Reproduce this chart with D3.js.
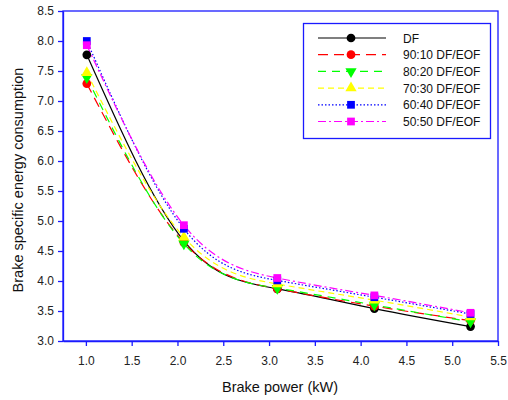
<!DOCTYPE html>
<html><head><meta charset="utf-8">
<script src="https://cdn.jsdelivr.net/npm/d3@7"></script>
<style>body{margin:0;background:#fff}svg{display:block}text{font-family:"Liberation Sans",Arial,sans-serif}</style>
</head><body><svg id="c" width="508" height="400"></svg>
<script>
const power = [1.01, 2.07, 3.09, 4.15, 5.2];
const seriesNames = ["DF","90:10 DF/EOF","80:20 DF/EOF","70:30 DF/EOF","60:40 DF/EOF","50:50 DF/EOF"];
const dfVals   = [7.77, 4.67, 3.87, 3.54, 3.24];
const b9010    = [7.29, 4.64, 3.87, 3.58, 3.34];
const b8020    = [7.39, 4.62, 3.88, 3.60, 3.32];
const b7030    = [7.47, 4.73, 3.95, 3.68, 3.40];
const b6040    = [8.00, 4.87, 4.01, 3.73, 3.45];
const b5050    = [7.93, 4.93, 4.05, 3.76, 3.47];
const xTicks = [1.0,1.5,2.0,2.5,3.0,3.5,4.0,4.5,5.0,5.5];
const yTicks = [3.0,3.5,4.0,4.5,5.0,5.5,6.0,6.5,7.0,7.5,8.0,8.5];

const styles = [
  {color:"#000000", dash:null, marker:"circle"},
  {color:"#ff0000", dash:"10,6", marker:"circle"},
  {color:"#00ff00", dash:"8,6", marker:"triangleDown"},
  {color:"#ffff00", dash:"6,4", marker:"triangle"},
  {color:"#0000ff", dash:"1.5,2", marker:"square"},
  {color:"#ff00ff", dash:"8,3,2,3", marker:"square"}
];
const allVals = [dfVals,b9010,b8020,b7030,b6040,b5050];

const svg = d3.select("#c");
const L=63, R=498, T=11, B=341;
const x = d3.scaleLinear().domain([0.75,5.5]).range([L,R]);
const y = d3.scaleLinear().domain([3.0,8.5]).range([B,T]);
const axisColor="#1a1aff";

svg.append("rect").attr("x",L).attr("y",T).attr("width",R-L).attr("height",B-T)
  .attr("fill","none").attr("stroke",axisColor).attr("stroke-width",1.3);

const xa = svg.append("g").attr("transform",`translate(0,${B})`)
  .call(d3.axisBottom(x).tickValues(xTicks).tickFormat(d3.format(".1f")).tickSize(5).tickPadding(10).tickSizeOuter(0));
const ya = svg.append("g").attr("transform",`translate(${L},0)`)
  .call(d3.axisLeft(y).tickValues(yTicks).tickFormat(d3.format(".1f")).tickSize(5).tickPadding(4).tickSizeOuter(0));
[xa,ya].forEach(a=>{
  a.select(".domain").attr("stroke",axisColor).attr("stroke-width",1.3);
  a.selectAll(".tick line").attr("stroke",axisColor).attr("stroke-width",1.3);
  a.selectAll(".tick text").attr("fill","#222").style("font-size","12px").style("font-family","'Liberation Sans',Arial,sans-serif");
});

svg.append("text").attr("x",280).attr("y",392).attr("text-anchor","middle")
  .style("font-size","14.5px").attr("fill","#111").text("Brake power (kW)");
svg.append("text").attr("transform",`translate(23,${(T+B)/2+4}) rotate(-90)`).attr("text-anchor","middle")
  .style("font-size","14.5px").attr("fill","#111").text("Brake specific energy consumption");

const symMap = {circle:d3.symbolCircle, triangle:d3.symbolTriangle, triangleDown:d3.symbolTriangle, square:d3.symbolSquare};
function drawMarker(g, type, cx, cy, color){
  const sizes = {circle:60, triangle:55, triangleDown:55, square:60};
  const p = g.append("path").attr("d", d3.symbol().type(symMap[type]).size(sizes[type])())
    .attr("fill",color).attr("stroke","none");
  let tr = `translate(${cx},${cy})`;
  if(type==="triangleDown") tr += " rotate(180)";
  p.attr("transform",tr);
}

const line = d3.line().x(d=>x(d[0])).y(d=>y(d[1])).curve(d3.curveNatural);
allVals.forEach((vals,i)=>{
  const pts = power.map((p,j)=>[p,vals[j]]);
  svg.append("path").attr("d",line(pts)).attr("fill","none").attr("stroke",styles[i].color)
    .attr("stroke-width",1.2).attr("stroke-dasharray",styles[i].dash);
});
allVals.forEach((vals,i)=>{
  const g = svg.append("g");
  power.forEach((p,j)=>drawMarker(g, styles[i].marker, x(p), y(vals[j]), styles[i].color));
});

const lg = svg.append("g");
lg.append("rect").attr("x",303.5).attr("y",23.5).attr("width",187).attr("height",115)
  .attr("fill","#fff").attr("stroke",axisColor).attr("stroke-width",1.3);
seriesNames.forEach((name,i)=>{
  const yy = 38 + i*16.7;
  lg.append("line").attr("x1",318).attr("x2",386).attr("y1",yy).attr("y2",yy)
    .attr("stroke",styles[i].color).attr("stroke-width",1.2).attr("stroke-dasharray",styles[i].dash);
  drawMarker(lg, styles[i].marker, 351, yy, styles[i].color);
  lg.append("text").attr("x",403).attr("y",yy+4.5).style("font-size","12px").attr("fill","#111").text(name);
});
</script></body></html>
